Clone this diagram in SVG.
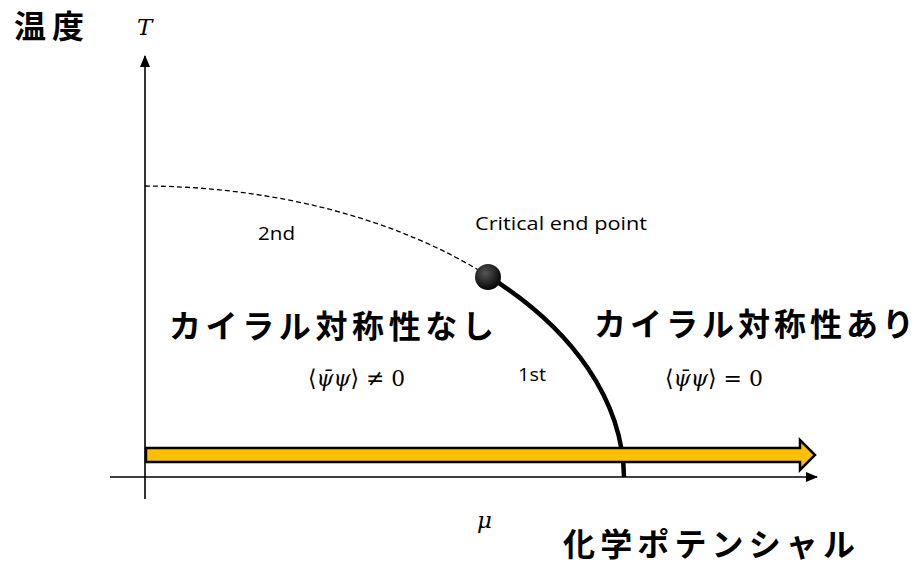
<svg xmlns="http://www.w3.org/2000/svg" width="921" height="573" viewBox="0 0 921 573">
  <style>
    .jp { font-family: "Noto Sans CJK JP", "Noto Sans", sans-serif; font-weight: bold; fill: #000; }
    .lbl { font-family: "Open Sans", "Noto Sans", sans-serif; font-size: 19px; fill: #000; }
    .math { font-family: "DejaVu Serif", "Liberation Serif", serif; font-size: 23px; fill: #000; }
    .it { font-style: italic; }
    .axis { stroke: #000; stroke-width: 1.6; fill: none; }
  </style>
  <defs>
    <marker id="ah" markerWidth="12" markerHeight="12" viewBox="0 0 12 12" refX="11" refY="6" orient="auto" markerUnits="userSpaceOnUse">
      <path d="M0,1 L12,6 L0,11 Z" fill="#000"/>
    </marker>
    <radialGradient id="dotg" cx="0.4" cy="0.35" r="0.7">
      <stop offset="0" stop-color="#555"/>
      <stop offset="1" stop-color="#000"/>
    </radialGradient>
  </defs>

  <g id="connectors">
    <path id="y-axis" class="axis" d="M145,499 L145,56" marker-end="url(#ah)"/>
    <path id="x-axis" class="axis" d="M110,477 L817,477" marker-end="url(#ah)"/>
    <path id="second-order" d="M145,186 A479,291 0 0,1 488,276" fill="none" stroke="#000" stroke-width="1.3" stroke-dasharray="5,3"/>
    <path id="first-order" d="M488,276 A479,291 0 0,1 624,477" fill="none" stroke="#000" stroke-width="4.5"/>
  </g>

  <g id="mu-arrow">
    <polygon points="146,448 800,448 800,440 815,455 800,470 800,462 146,462" fill="#FFC000" stroke="#000" stroke-width="2.5" stroke-linejoin="miter"/>
  </g>

  <g id="critical-end-point">
    <circle cx="488" cy="277" r="13" fill="url(#dotg)"/>
    <text class="lbl" x="475" y="230" textLength="172" lengthAdjust="spacingAndGlyphs">Critical end point</text>
  </g>

  <g id="axis-labels">
    <text class="jp" x="14" y="38" font-size="32" textLength="70">温度</text>
    <text class="math it" x="137" y="35" font-size="25">T</text>
    <text class="math it" x="477" y="528" font-size="23">μ</text>
    <text class="jp" x="563" y="556" font-size="32" textLength="292">化学ポテンシャル</text>
  </g>

  <g id="line-labels">
    <text class="lbl" x="258" y="240" textLength="37" lengthAdjust="spacingAndGlyphs">2nd</text>
    <text class="lbl" x="518" y="381" textLength="28" lengthAdjust="spacingAndGlyphs">1st</text>
  </g>

  <g id="broken-phase">
    <text class="jp" x="169" y="338" font-size="32" textLength="325">カイラル対称性なし</text>
    <text class="math" x="308" y="386" textLength="97" lengthAdjust="spacingAndGlyphs">⟨<tspan class="it">ψ̄ψ</tspan>⟩ ≠ 0</text>
  </g>

  <g id="restored-phase">
    <text class="jp" x="594" y="336" font-size="32" textLength="320">カイラル対称性あり</text>
    <text class="math" x="665" y="386" textLength="98" lengthAdjust="spacingAndGlyphs">⟨<tspan class="it">ψ̄ψ</tspan>⟩ = 0</text>
  </g>
</svg>
